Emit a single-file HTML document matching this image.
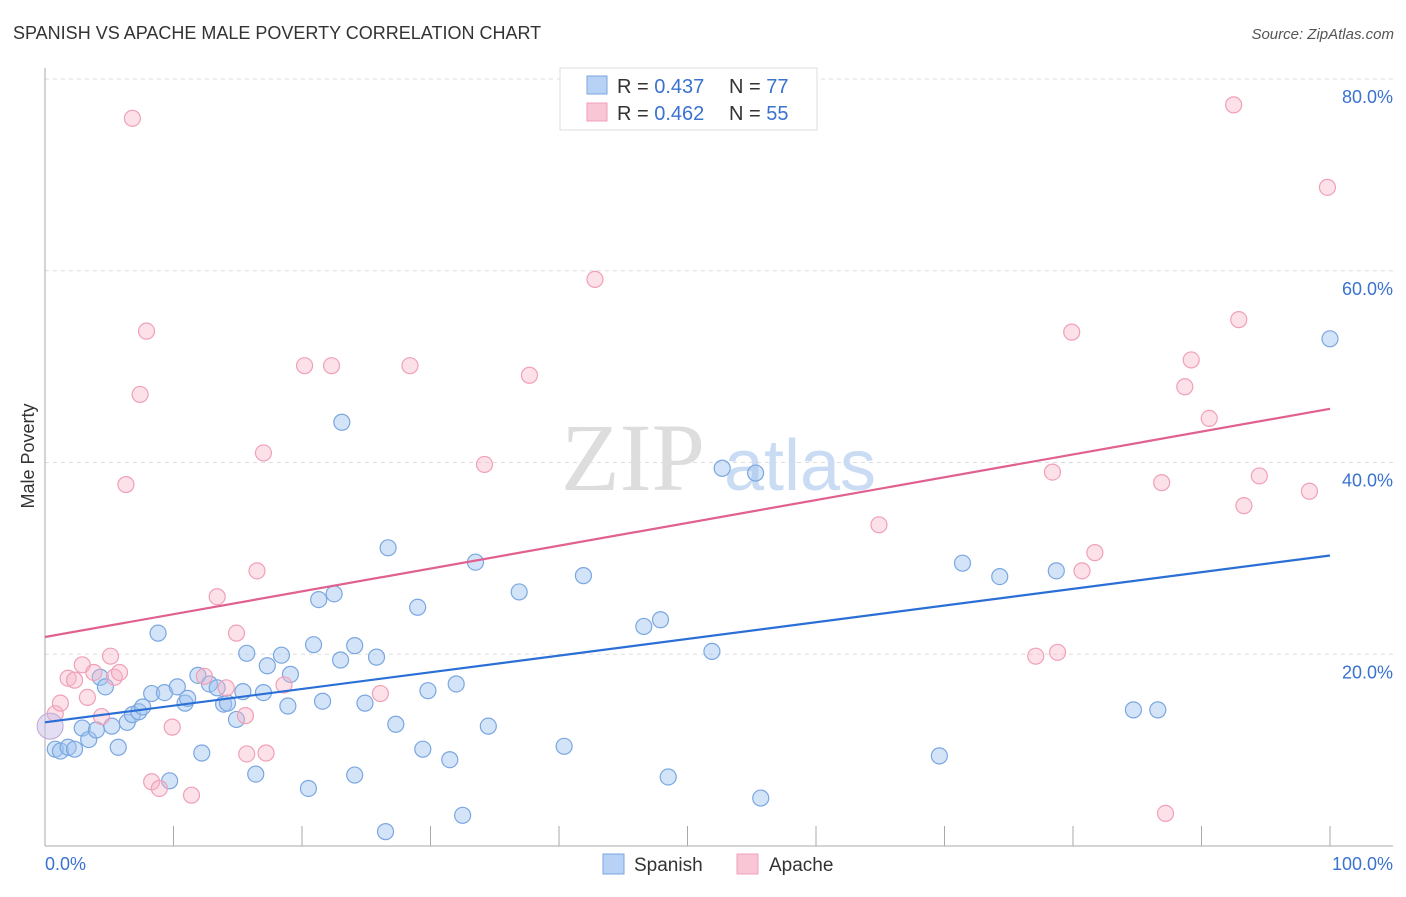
<!DOCTYPE html>
<html><head><meta charset="utf-8"><style>
body{margin:0;background:#fff;font-family:"Liberation Sans",sans-serif}
</style></head><body>
<svg id="chart" width="1406" height="892" xmlns="http://www.w3.org/2000/svg" font-family="Liberation Sans, sans-serif">
<text x="13" y="39" font-size="18" fill="#333">SPANISH VS APACHE MALE POVERTY CORRELATION CHART</text>
<text x="1394" y="39" font-size="15" fill="#555" font-style="italic" text-anchor="end">Source: ZipAtlas.com</text>
<text x="34" y="456" font-size="18" fill="#333" text-anchor="middle" transform="rotate(-90 34 456)">Male Poverty</text>
<g id="grid"></g>
<g>
<text x="633" y="490" font-size="96" font-family="Liberation Serif, serif" fill="#ddd" text-anchor="middle">ZIP</text>
<text x="800" y="490" font-size="72" fill="#c9dcf3" text-anchor="middle">atlas</text>
</g>
<g id="marks"></g>
<g>
<rect x="560" y="68" width="257" height="62" fill="#fff" stroke="#ddd"/>
<rect x="587" y="76" width="20" height="18" fill="#b7d2f5" stroke="#7aa7e0"/>
<rect x="587" y="103" width="20" height="18" fill="#f8c6d5" stroke="#f0a0b8"/>
<text x="617" y="93" font-size="20" fill="#333">R = <tspan fill="#3a72d0">0.437</tspan></text>
<text x="729" y="93" font-size="20" fill="#333">N = <tspan fill="#3a72d0">77</tspan></text>
<text x="617" y="120" font-size="20" fill="#333">R = <tspan fill="#3a72d0">0.462</tspan></text>
<text x="729" y="120" font-size="20" fill="#333">N = <tspan fill="#3a72d0">55</tspan></text>
</g>
<g>
<rect x="603" y="854" width="21" height="20" fill="#b7d2f5" stroke="#7aa7e0"/>
<text x="634" y="871" font-size="19" fill="#333">Spanish</text>
<rect x="737" y="854" width="21" height="20" fill="#f8c6d5" stroke="#f0a0b8"/>
<text x="769" y="871" font-size="19" fill="#333">Apache</text>
</g>
</svg>
<script>
const yTicks=[20,40,60,80];
const yTickLabels=["20.0%","40.0%","60.0%","80.0%"];
const xTicks=[0,10,20,30,40,50,60,70,80,90,100];
const spanishX=[0.8,1.2,1.8,2.3,2.9,3.4,4.0,4.3,4.7,5.2,5.7,6.4,6.8,7.3,7.6,8.3,8.8,9.3,9.7,10.3,10.9,11.1,11.9,12.2,12.8,13.4,13.9,14.2,14.9,15.4,15.7,16.4,17.0,17.3,18.4,18.9,19.1,20.5,20.9,21.3,21.6,22.5,23.0,23.1,24.1,24.1,24.9,25.8,26.5,26.7,27.3,29.0,29.4,29.8,31.5,32.0,32.5,33.5,34.5,36.9,40.4,41.9,46.6,47.9,48.5,51.9,52.7,55.3,55.7,69.6,71.4,74.3,78.7,84.7,86.6,100];
const spanishY=[10.1,9.9,10.3,10.1,12.3,11.1,12.1,17.6,16.6,12.5,10.3,12.9,13.7,14.0,14.5,15.9,22.2,16.0,6.8,16.6,14.9,15.4,17.8,9.7,16.9,16.5,14.8,14.9,13.2,16.1,20.1,7.5,16.0,18.8,19.9,14.6,17.9,6.0,21.0,25.7,15.1,26.3,19.4,44.2,7.4,20.9,14.9,19.7,1.5,31.1,12.7,24.9,10.1,16.2,9.0,16.9,3.2,29.6,12.5,26.5,10.4,28.2,22.9,23.6,7.2,20.3,39.4,38.9,5.0,9.4,29.5,28.1,28.7,14.2,14.2,52.9];
const apacheX=[0.8,1.2,1.8,2.3,2.9,3.3,3.8,4.4,5.1,5.4,5.8,6.3,6.8,7.4,7.9,8.3,8.9,9.9,11.4,12.4,13.4,14.1,14.9,15.6,15.7,16.5,17.0,17.2,18.6,20.2,22.3,26.1,28.4,34.2,37.7,42.8,64.9,77.1,78.4,78.8,79.9,80.7,81.7,86.9,87.2,88.7,89.2,90.6,92.5,92.9,93.3,94.5,98.4,99.8];
const apacheY=[13.8,14.9,17.5,17.3,18.9,15.5,18.1,13.5,19.8,17.6,18.1,37.7,75.9,47.1,53.7,6.7,6.0,12.4,5.3,17.7,26.0,16.5,22.2,13.6,9.6,28.7,41.0,9.7,16.8,50.1,50.1,15.9,50.1,39.8,49.1,59.1,33.5,19.8,39.0,20.2,53.6,28.7,30.6,37.9,3.4,47.9,50.7,44.6,77.3,54.9,35.5,38.6,37.0,68.7];
const spanishTrend=[12.9,30.3];
const apacheTrend=[21.8,45.6];
const NS="http://www.w3.org/2000/svg";
const X=v=>45+v*12.85, Y=v=>846-v*9.5875;
function mk(t,a,p){const e=document.createElementNS(NS,t);for(const k in a)e.setAttribute(k,a[k]);p.appendChild(e);return e;}
const g=document.getElementById('grid'), m=document.getElementById('marks');
yTicks.forEach((v,i)=>{
 const l=mk('line',{x1:45,x2:1393,y1:Y(v),y2:Y(v),stroke:'#ddd','stroke-dasharray':'4 4'},g);
 
 
 const t=mk('text',{x:1393,y:Y(v)+24,'font-size':18,fill:'#3a72d0','text-anchor':'end'},g);t.textContent=yTickLabels[i];
 
 
});
mk('line',{x1:45,x2:45,y1:68,y2:846,stroke:'#aaa'},g);
mk('line',{x1:45,x2:1393,y1:846,y2:846,stroke:'#aaa'},g);
xTicks.forEach(v=>{const l=mk('line',{x1:X(v),x2:X(v),y1:826,y2:846,stroke:'#aaa'},g);
 
 });
let t0=mk('text',{x:45,y:870,'font-size':18,fill:'#3a72d0'},g);t0.textContent='0.0%';
let t1=mk('text',{x:1393,y:870,'font-size':18,fill:'#3a72d0','text-anchor':'end'},g);t1.textContent='100.0%';
function series(xs,ys,fill,stroke,name){xs.forEach((x,i)=>{
 const c=mk('circle',{cx:X(x),cy:Y(ys[i]),r:8,fill:fill,stroke:stroke,'stroke-width':1.2},m);
 
 });}
series(spanishX,spanishY,'rgba(160,196,240,0.45)','#7aa7e0','spanish');
series(apacheX,apacheY,'rgba(248,180,200,0.4)','#f0a0b8','apache');
let b1=mk('circle',{cx:X(0.4),cy:Y(12.5),r:13,fill:'rgba(200,190,230,0.5)',stroke:'#c0a8d8'},m);


const l1=mk('line',{x1:X(0),y1:Y(spanishTrend[0]),x2:X(100),y2:Y(spanishTrend[1]),stroke:'#2a6fd6','stroke-width':2.2},m);


const l2=mk('line',{x1:X(0),y1:Y(apacheTrend[0]),x2:X(100),y2:Y(apacheTrend[1]),stroke:'#e0608f','stroke-width':2.2},m);


</script>
</body></html>
